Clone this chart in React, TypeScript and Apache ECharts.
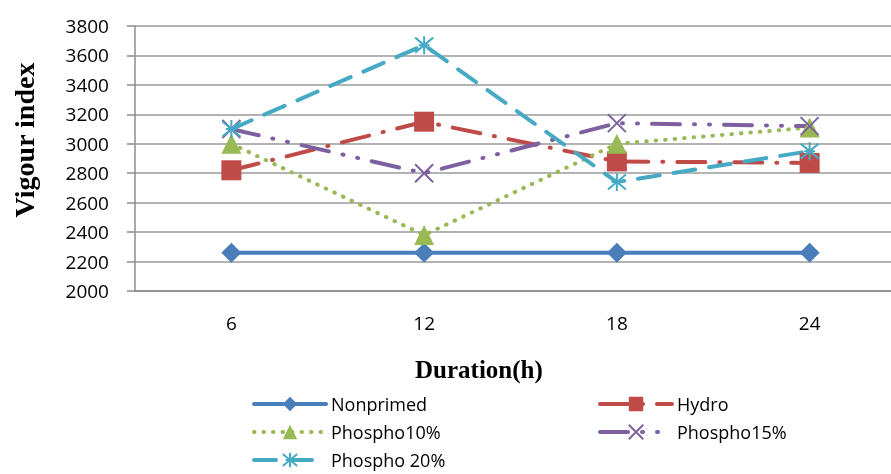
import React, { useEffect, useRef } from "react";
import * as echarts from "echarts";

const categories = ["6", "12", "18", "24"];
const nonprimed = [2260, 2260, 2260, 2260];
const hydro = [2820, 3150, 2880, 2870];
const phospho10 = [3000, 2380, 3000, 3110];
const phospho15 = [3100, 2800, 3140, 3120];
const phospho20 = [3100, 3670, 2740, 2950];

const seriesNames = ["Nonprimed", "Hydro", "Phospho10%", "Phospho15%", "Phospho 20%"];

const crossPath = "path://M0,0L20,20M20,0L0,20";
const starPath = "path://M0,0L20,20M20,0L0,20M10,-2L10,22M4,10L16,10";

export default function App() {
  const ref = useRef<HTMLDivElement>(null);
  useEffect(() => {
    if (!ref.current) return;
    const chart = echarts.init(ref.current, undefined, { renderer: "svg" });
    const labelFont = "'Open Sans', 'Noto Sans', sans-serif";
    const mk = (name: string, data: number[], color: string, lineType: any, symbol: string, size: number, stroke: boolean) => ({
      name,
      type: "line",
      data,
      symbol,
      symbolSize: size,
      showSymbol: true,
      lineStyle: { color, width: 4, type: lineType, cap: "round" },
      itemStyle: stroke
        ? { color: "rgba(0,0,0,0)", borderColor: color, borderWidth: 2 }
        : { color, borderWidth: 0 },
      emphasis: { disabled: true },
    });
    const legendCommon = {
      orient: "vertical",
      top: 395,
      height: 80,
      padding: 0,
      itemWidth: 72,
      itemHeight: 18,
      itemGap: 10,
      lineStyle: { width: 4 },
      textStyle: { fontSize: 18, fontFamily: labelFont, color: "#000" },
    };
    chart.setOption({
      animation: false,
      grid: { left: 135, top: 26, width: 771, height: 265, containLabel: false },
      xAxis: {
        type: "category",
        data: categories,
        boundaryGap: true,
        axisLine: { lineStyle: { color: "#8c8c8c", width: 1.5 } },
        axisTick: { show: false },
        axisLabel: { color: "#000", fontSize: 19, fontFamily: labelFont, margin: 22 },
      },
      yAxis: {
        type: "value",
        min: 2000,
        max: 3800,
        interval: 200,
        axisLine: { show: true, lineStyle: { color: "#8c8c8c", width: 1.5 } },
        axisTick: { show: true, length: 8, lineStyle: { color: "#8c8c8c", width: 1.5 } },
        splitLine: { lineStyle: { color: "#9a9a9a", width: 1.5 } },
        axisLabel: { color: "#000", fontSize: 19, fontFamily: labelFont, margin: 26, formatter: (v: number) => String(v) },
      },
      legend: [
        { ...legendCommon, left: 252, data: ["Nonprimed", "Phospho10%", "Phospho 20%"] },
        { ...legendCommon, left: 598, data: ["Hydro", "Phospho15%"] },
      ],
      series: [
        mk(seriesNames[0], nonprimed, "#4A7EBB", "solid", "diamond", 20, false),
        mk(seriesNames[1], hydro, "#BE4B48", [28, 14, 1, 14], "rect", 20, false),
        mk(seriesNames[2], phospho10, "#98B954", [0.5, 9], "triangle", 20, false),
        mk(seriesNames[3], phospho15, "#7D60A0", [28, 14, 1, 14, 1, 14], crossPath, 18, true),
        mk(seriesNames[4], phospho20, "#46AAC5", [22, 14], starPath, 18, true),
      ],
      graphic: [
        {
          type: "text",
          left: 415,
          top: 357,
          style: { text: "Duration(h)", font: "bold 25px 'Liberation Serif', 'DejaVu Serif', serif", fill: "#000" },
        },
        {
          type: "text",
          x: 24,
          y: 140,
          rotation: Math.PI / 2,
          style: {
            text: "Vigour index",
            font: "bold 28px 'Liberation Serif', 'DejaVu Serif', serif",
            fill: "#000",
            align: "center",
            verticalAlign: "middle",
          },
        },
      ],
    });
    return () => chart.dispose();
  }, []);
  return (
    <div style={{ position: "fixed", left: 0, top: 0, width: 891, height: 474, overflow: "hidden" }}>
      <div ref={ref} style={{ width: 930, height: 474 }} />
    </div>
  );
}
